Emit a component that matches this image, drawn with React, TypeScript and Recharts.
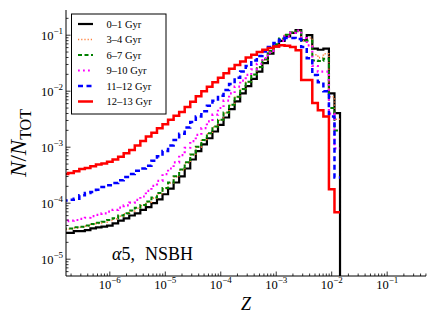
import { LineChart, Line, XAxis, YAxis } from 'recharts';

// log10(Z) bin edges of the histogram (0.1 dex bins)
const logZEdges = [
  -6.85, -6.75, -6.65, -6.55, -6.45, -6.35, -6.25, -6.15, -6.05, -5.95,
  -5.85, -5.75, -5.65, -5.55, -5.45, -5.35, -5.25, -5.15, -5.05, -4.95,
  -4.85, -4.75, -4.65, -4.55, -4.45, -4.35, -4.25, -4.15, -4.05, -3.95,
  -3.85, -3.75, -3.65, -3.55, -3.45, -3.35, -3.25, -3.15, -3.05, -2.95,
  -2.85, -2.75, -2.65, -2.55, -2.45, -2.35, -2.25, -2.15, -2.05, -1.95,
  -1.85,
];

// log10(N/N_TOT) per bin
const age0to1 = [
  -4.53, -4.53, -4.50, -4.50, -4.48, -4.45, -4.43, -4.42, -4.40, -4.36,
  -4.31, -4.27, -4.22, -4.18, -4.12, -4.07, -4.00, -3.93, -3.84, -3.74,
  -3.63, -3.52, -3.38, -3.22, -3.07, -2.95, -2.84, -2.72, -2.60, -2.47,
  -2.32, -2.18, -2.04, -1.91, -1.78, -1.65, -1.50, -1.33, -1.20, -1.10,
  -1.02, -0.96, -0.91, -1.09, -1.00, -1.24, -1.26, -1.24, -2.04, -2.39,
];
const age3to4 = [
  -4.47, -4.46, -4.44, -4.43, -4.41, -4.38, -4.36, -4.34, -4.31, -4.28,
  -4.23, -4.19, -4.14, -4.09, -4.04, -3.98, -3.91, -3.83, -3.74, -3.64,
  -3.53, -3.41, -3.28, -3.14, -3.00, -2.88, -2.76, -2.64, -2.52, -2.39,
  -2.25, -2.11, -1.97, -1.84, -1.71, -1.58, -1.44, -1.29, -1.17, -1.07,
  -1.00, -0.95, -0.93, -1.10, -1.05, -1.35, -1.40, -1.33, -2.10, -2.50,
];
const age6to7 = [
  -4.45, -4.45, -4.43, -4.42, -4.40, -4.37, -4.35, -4.33, -4.30, -4.27,
  -4.22, -4.18, -4.13, -4.08, -4.03, -3.97, -3.90, -3.82, -3.73, -3.63,
  -3.52, -3.40, -3.27, -3.13, -2.99, -2.87, -2.75, -2.63, -2.51, -2.38,
  -2.24, -2.10, -1.96, -1.83, -1.70, -1.57, -1.43, -1.28, -1.16, -1.06,
  -0.99, -0.95, -0.93, -1.10, -1.10, -1.45, -1.46, -1.42, -2.30, -2.70,
];
const age9to10 = [
  -4.32, -4.31, -4.30, -4.28, -4.26, -4.23, -4.21, -4.18, -4.15, -4.12,
  -4.08, -4.04, -3.99, -3.94, -3.88, -3.78, -3.69, -3.60, -3.48, -3.38,
  -3.27, -3.14, -3.01, -2.89, -2.78, -2.66, -2.54, -2.42, -2.30, -2.17,
  -2.04, -1.92, -1.81, -1.71, -1.61, -1.51, -1.41, -1.31, -1.21, -1.10,
  -1.02, -0.96, -0.92, -1.05, -1.18, -1.55, -1.65, -1.65, -2.40, -3.02,
];
const age11to12 = [
  -3.95, -3.94, -3.92, -3.86, -3.82, -3.80, -3.76, -3.71, -3.68, -3.64,
  -3.59, -3.53, -3.48, -3.42, -3.38, -3.33, -3.24, -3.16, -3.07, -2.97,
  -2.87, -2.76, -2.65, -2.55, -2.45, -2.36, -2.26, -2.17, -2.08, -1.98,
  -1.87, -1.76, -1.65, -1.55, -1.45, -1.37, -1.29, -1.21, -1.14, -1.08,
  -1.05, -1.05, -1.07, -1.21, -1.41, -1.71, -1.84, -2.00, -2.45, -3.54,
];
const age12to13 = [
  -3.48, -3.46, -3.43, -3.39, -3.37, -3.34, -3.31, -3.29, -3.26, -3.22,
  -3.17, -3.11, -3.05, -2.97, -2.89, -2.81, -2.74, -2.66, -2.59, -2.51,
  -2.44, -2.37, -2.28, -2.19, -2.09, -2.00, -1.92, -1.84, -1.76, -1.68,
  -1.60, -1.53, -1.47, -1.40, -1.35, -1.30, -1.26, -1.23, -1.20, -1.18,
  -1.19, -1.21, -1.27, -1.80, -1.80, -2.21, -2.34, -2.45, -3.75, -4.16,
];

const ageLabels = ['0–1 Gyr', '3–4 Gyr', '6–7 Gyr', '9–10 Gyr', '11–12 Gyr', '12–13 Gyr'];

const xMajor = [-6, -5, -4, -3, -2, -1];
const yMajor = [-5, -4, -3, -2, -1];
const xDomain: [number, number] = [-6.79, -0.3];
const yDomain: [number, number] = [-5.3, -0.55];

const FONT = "'Liberation Serif', 'DejaVu Serif', serif";

const series = [
  { key: 'a0', name: ageLabels[0], values: age0to1, color: '#000000', width: 2.2, dash: undefined as string | undefined, drop: true },
  { key: 'a3', name: ageLabels[1], values: age3to4, color: '#ff7f3a', width: 1.6, dash: '1.2 2', drop: false },
  { key: 'a6', name: ageLabels[2], values: age6to7, color: '#008000', width: 2, dash: '4 2.5', drop: false },
  { key: 'a9', name: ageLabels[3], values: age9to10, color: '#ff00ff', width: 2.2, dash: '1.8 3.2', drop: false },
  { key: 'a11', name: ageLabels[4], values: age11to12, color: '#0000ff', width: 2.5, dash: '5 3.5', drop: false },
  { key: 'a12', name: ageLabels[5], values: age12to13, color: '#ff0000', width: 2.5, dash: undefined, drop: false },
];

// step rows: one per left edge, plus the closing right edge (and a drop to the floor for black)
const rows: Record<string, number>[] = logZEdges.map((z, k) => {
  const row: Record<string, number> = { z };
  series.forEach((s) => {
    row[s.key] = s.values[Math.min(k, s.values.length - 1)];
  });
  return row;
});
const dropRow: Record<string, number> = { z: logZEdges[logZEdges.length - 1] };
series.forEach((s) => {
  if (s.drop) dropRow[s.key] = -9;
});
rows.push(dropRow);

function minorTicks(domain: [number, number]) {
  const out: number[] = [];
  for (let n = Math.floor(domain[0]); n < domain[1]; n++) {
    for (let k = 2; k <= 9; k++) {
      const v = n + Math.log10(k);
      if (v > domain[0] && v < domain[1]) out.push(v);
    }
  }
  return out;
}
const xTicks = [...xMajor, ...minorTicks(xDomain)];
const yTicks = [...yMajor, ...minorTicks(yDomain)];

const exp = (v: number) => String(v).replace('-', '−');
const MAJ = 4.5;
const MIN = 2.5;

const BottomTick = (p: any) => {
  const major = xMajor.includes(p.payload.value);
  return (
    <g>
      <line x1={p.x} x2={p.x} y1={p.y} y2={p.y - (major ? MAJ : MIN)} stroke="#000" strokeWidth={0.8} />
      {major && (
        <text x={p.x} y={p.y + 13} textAnchor="middle" fontFamily={FONT} fontSize={12.5} fill="#000">
          <tspan>10</tspan>
          <tspan dy={-6} fontSize={9}>{exp(p.payload.value)}</tspan>
        </text>
      )}
    </g>
  );
};
const TopTick = (p: any) => {
  const major = xMajor.includes(p.payload.value);
  return <line x1={p.x} x2={p.x} y1={p.y} y2={p.y + (major ? MAJ : MIN)} stroke="#000" strokeWidth={0.8} />;
};
const LeftTick = (p: any) => {
  const major = yMajor.includes(p.payload.value);
  return (
    <g>
      <line x1={p.x} x2={p.x + (major ? MAJ : MIN)} y1={p.y} y2={p.y} stroke="#000" strokeWidth={0.8} />
      {major && (
        <text x={p.x - 3} y={p.y + 4.5} textAnchor="end" fontFamily={FONT} fontSize={12.5} fill="#000">
          <tspan>10</tspan>
          <tspan dy={-6} fontSize={9}>{exp(p.payload.value)}</tspan>
        </text>
      )}
    </g>
  );
};
const RightTick = (p: any) => {
  const major = yMajor.includes(p.payload.value);
  return <line x1={p.x} x2={p.x - (major ? MAJ : MIN)} y1={p.y} y2={p.y} stroke="#000" strokeWidth={0.8} />;
};

export default function App() {
  return (
    <div style={{ position: 'relative', width: 436, height: 329, background: '#fff' }}>
      <style>{'body{margin:0}'}</style>
      <LineChart width={436} height={329} data={rows} margin={{ top: 10, right: 10, bottom: 0, left: 0 }}>
        <XAxis
          xAxisId="b" type="number" dataKey="z" domain={xDomain} allowDataOverflow
          ticks={xTicks} interval={0} tickSize={0} tickMargin={0} tickLine={false}
          tick={(p: any) => <BottomTick {...p} />} height={53} axisLine={{ stroke: '#000' }}
        />
        <XAxis
          xAxisId="t" orientation="top" type="number" dataKey="z" domain={xDomain} allowDataOverflow
          ticks={xTicks} interval={0} tickSize={0} tickMargin={0} tickLine={false}
          tick={(p: any) => <TopTick {...p} />} height={0} axisLine={{ stroke: '#000' }}
        />
        <YAxis
          yAxisId="l" type="number" domain={yDomain} allowDataOverflow
          ticks={yTicks} interval={0} tickSize={0} tickMargin={0} tickLine={false}
          tick={(p: any) => <LeftTick {...p} />} width={66} axisLine={{ stroke: '#000' }}
        />
        <YAxis
          yAxisId="r" orientation="right" type="number" domain={yDomain} allowDataOverflow
          ticks={yTicks} interval={0} tickSize={0} tickMargin={0} tickLine={false}
          tick={(p: any) => <RightTick {...p} />} width={0} axisLine={{ stroke: '#000' }}
        />
        {series.map((s) => (
          <Line
            key={s.key}
            xAxisId="b"
            yAxisId="l"
            type="stepAfter"
            dataKey={s.key}
            stroke={s.color}
            strokeWidth={s.width}
            strokeDasharray={s.dash}
            dot={false}
            activeDot={false}
            isAnimationActive={false}
          />
        ))}
      </LineChart>
      <svg width={436} height={329} style={{ position: 'absolute', left: 0, top: 0, pointerEvents: 'none' }}>
        <rect x={71.5} y={14} width={94.5} height={100} fill="#fff" stroke="#000" strokeWidth={1} />
        {series.map((s, i) => (
          <g key={s.key}>
            <line
              x1={78} x2={93} y1={24 + i * 15.5} y2={24 + i * 15.5}
              stroke={s.color} strokeWidth={s.width} strokeDasharray={s.dash}
            />
            <text x={106.5} y={27.5 + i * 15.5} fontFamily={FONT} fontSize={10.5} fill="#000">{s.name}</text>
          </g>
        ))}
        <text x={112} y={260} fontFamily={FONT} fontSize={18} fill="#000">
          <tspan fontStyle="italic">α</tspan>
          <tspan>5,</tspan>
          <tspan dx={10}>NSBH</tspan>
        </text>
        <text x={246} y={310} textAnchor="middle" fontFamily={FONT} fontSize={18} fontStyle="italic" fill="#000">Z</text>
        <text transform="rotate(-90)" x={-143} y={26} textAnchor="middle" fontFamily={FONT} fontSize={23} fill="#000">
          <tspan fontStyle="italic">N</tspan>
          <tspan>/</tspan>
          <tspan fontStyle="italic">N</tspan>
          <tspan dy={5} fontSize={16}>TOT</tspan>
        </text>
      </svg>
    </div>
  );
}
